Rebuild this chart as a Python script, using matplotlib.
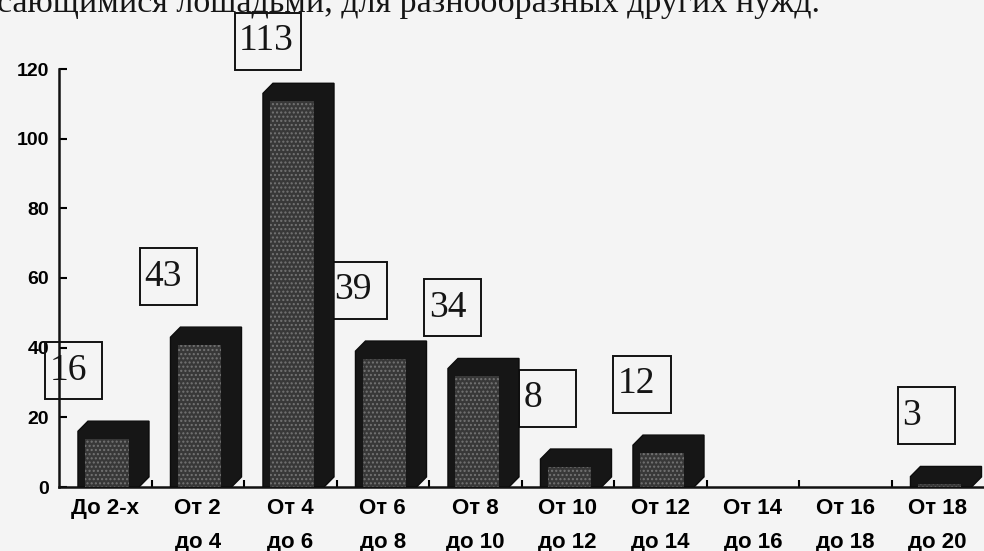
import numpy as np
import matplotlib.pyplot as plt
from matplotlib.patches import Polygon, Rectangle

# Распределение по возрастным группам
groups = ['До 2-х', 'От 2\nдо 4', 'От 4\nдо 6', 'От 6\nдо 8', 'От 8\nдо 10',
          'От 10\nдо 12', 'От 12\nдо 14', 'От 14\nдо 16', 'От 16\nдо 18', 'От 18\nдо 20']
counts = [16, 43, 113, 39, 34, 8, 12, 0, 0, 3]
yticks = [0, 20, 40, 60, 80, 100, 120]

caption = 'сающимися лошадьми, для разнообразных других нужд.'

bg = '#f4f4f4'
fig = plt.figure(figsize=(9.84, 5.51), dpi=100, facecolor=bg)
ax = fig.add_axes([59/984, 64/551, 925/984, 418/551])
ax.set_facecolor(bg)
ax.set_xlim(0, len(groups))
ax.set_ylim(0, 120)

# geometry of the pseudo-3D bars (in data units)
off = 0.205      # gap from category boundary to front face
w = 0.66         # front face width
dx = 0.108       # depth shift to the right
dy = 2.9         # depth shift upward

for i, v in enumerate(counts):
    if v <= 0:
        continue
    x0 = i + off
    x1 = x0 + w
    body = Polygon([(x0, 0), (x0, v), (x0 + dx, v + dy), (x1 + dx, v + dy),
                    (x1 + dx, dy), (x1, 0)], closed=True,
                   facecolor='#161616', edgecolor='#0c0c0c', lw=1.0, zorder=3)
    ax.add_patch(body)
    # stippled inner part of the front face
    ih = max(v - 2.2, 0.5)
    inner = Rectangle((x0 + 0.08, 0), w - 0.19, ih, facecolor='#383838',
                      edgecolor='#747474', hatch='....', lw=0, zorder=4)
    ax.add_patch(inner)

# value boxes
for i, v in enumerate(counts):
    if v <= 0:
        continue
    bw = 0.62 if len(str(v)) < 3 else 0.72
    bh = 16.4
    bx = i * 1.024 - 0.15
    yc = min(v + 17.5, 128)
    by = yc - bh / 2
    ax.add_patch(Rectangle((bx, by), bw, bh, facecolor='none', edgecolor='#111111',
                           lw=1.4, zorder=2, clip_on=False))
    ax.text(bx + 0.05, yc, str(v), ha='left', va='center',
            fontsize=27, family='Liberation Serif', color='#151515',
            zorder=2, clip_on=False)

for s in ['top', 'right']:
    ax.spines[s].set_visible(False)
for s in ['left', 'bottom']:
    ax.spines[s].set_linewidth(1.8)
    ax.spines[s].set_color('#111111')

ax.set_yticks(yticks)
ax.set_yticklabels([str(t) for t in yticks], fontsize=14, fontweight='bold',
                   family='Liberation Sans')
ax.tick_params(axis='y', direction='in', length=6, width=1.5, pad=7)

ax.set_xticks(np.arange(1, len(groups)))
ax.set_xticklabels([])
ax.tick_params(axis='x', which='major', direction='in', length=5, width=1.5)
ax.set_xticks(np.arange(len(groups)) + 0.5, minor=True)
ax.set_xticklabels(groups, minor=True, fontsize=16, fontweight='bold',
                   family='Liberation Sans', linespacing=1.8)
ax.tick_params(axis='x', which='minor', length=0, pad=8)

fig.text(-0.003, 1 - 12/551, caption, ha='left', va='baseline', fontsize=24.5,
         family='Liberation Serif', color='#151515')

fig.savefig('out.png', dpi=100, facecolor=bg)
